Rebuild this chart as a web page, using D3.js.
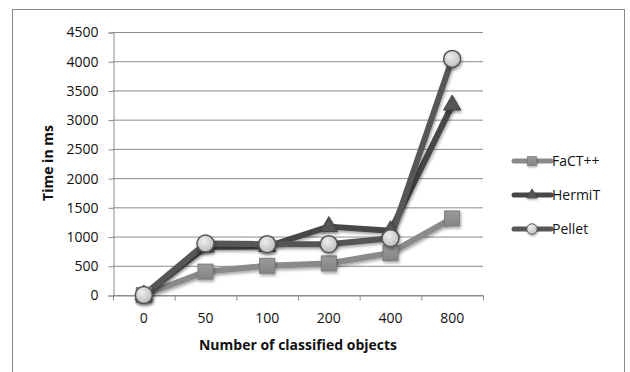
<!DOCTYPE html>
<html><head><meta charset="utf-8">
<script src="https://cdn.jsdelivr.net/npm/d3@7"></script>
<style>body{margin:0;background:#fff}text{font-family:"Open Sans",sans-serif}</style>
</head><body><svg id="c" width="630" height="372"></svg>
<script>
const categories = ["0","50","100","200","400","800"];
const seriesNames = ["FaCT++","HermiT","Pellet"];
const factValues = [0, 400, 500, 540, 720, 1310];
const hermitValues = [0, 820, 830, 1170, 1100, 3250];
const pelletValues = [0, 880, 870, 870, 970, 4040];
const yTicks = [0,500,1000,1500,2000,2500,3000,3500,4000,4500];

(function(){
const svg = d3.select("#c");
const defs = svg.append("defs");
const f = defs.append("filter").attr("id","sh").attr("x","-50%").attr("y","-50%").attr("width","200%").attr("height","200%");
f.append("feDropShadow").attr("dx",1).attr("dy",2).attr("stdDeviation",1.5).attr("flood-color","#000").attr("flood-opacity",0.35);
const g1 = defs.append("radialGradient").attr("id","circG").attr("cx","40%").attr("cy","35%").attr("r","65%");
g1.append("stop").attr("offset","0%").attr("stop-color","#eeeeee");
g1.append("stop").attr("offset","100%").attr("stop-color","#bdbdbd");
const g2 = defs.append("linearGradient").attr("id","sqG").attr("x1",0).attr("y1",0).attr("x2",0).attr("y2",1);
g2.append("stop").attr("offset","0%").attr("stop-color","#9a9a9a");
g2.append("stop").attr("offset","100%").attr("stop-color","#858585");

svg.append("rect").attr("x",12.5).attr("y",9.5).attr("width",612).attr("height",380)
  .attr("fill","none").attr("stroke","#8a8a8a").attr("stroke-width",1);

const pl=113, pr=483, pt=32, pb=295;
const x = d3.scaleBand().domain(categories).range([pl,pr]);
const y = d3.scaleLinear().domain([0,4500]).range([pb,pt]);

svg.append("g").selectAll("line").data(yTicks).join("line")
  .attr("x1",pl).attr("x2",pr).attr("y1",d=>y(d)+0.5).attr("y2",d=>y(d)+0.5)
  .attr("stroke","#8c8c8c").attr("stroke-width",1);

const ya = svg.append("g").attr("transform",`translate(${pl+0.5},0.5)`)
  .call(d3.axisLeft(y).tickValues(yTicks).tickSize(5).tickPadding(10).tickFormat(d3.format("d")));
ya.select(".domain").attr("stroke","#8c8c8c");
ya.selectAll(".tick line").attr("stroke","#8c8c8c");
ya.selectAll("text").attr("font-size",14).attr("fill","#111").attr("font-family","Open Sans");

const xa = svg.append("g").attr("transform",`translate(0,${pb+0.5})`)
  .call(d3.axisBottom(x).tickSize(0).tickPadding(18));
xa.select(".domain").attr("stroke","#8c8c8c");
xa.selectAll("text").attr("font-size",14).attr("fill","#111").attr("font-family","Open Sans");
xa.selectAll(".sep").data(d3.range(categories.length+1)).join("line").attr("class","sep")
  .attr("x1",i=>pl+i*x.step()+0.5).attr("x2",i=>pl+i*x.step()+0.5)
  .attr("y1",0).attr("y2",5).attr("stroke","#8c8c8c");

svg.append("text").attr("x",(pl+pr)/2).attr("y",350).attr("text-anchor","middle")
  .attr("font-size",14).attr("font-weight","bold").attr("fill","#111").text("Number of classified objects");
svg.append("text").attr("transform","translate(53,163) rotate(-90)").attr("text-anchor","middle")
  .attr("font-size",14).attr("font-weight","bold").attr("fill","#111").text("Time in ms");

const cx = d => x(d) + x.bandwidth()/2;
const series = [
  {name:seriesNames[0], values:factValues, color:"#8a8a8a", marker:"square"},
  {name:seriesNames[1], values:hermitValues, color:"#474747", marker:"triangle"},
  {name:seriesNames[2], values:pelletValues, color:"#575757", marker:"circle"}
];
const line = d3.line().x((d,i)=>cx(categories[i])).y(d=>y(d));

function drawMarker(sel, type){
  if(type==="square"){
    sel.append("rect").attr("x",-7.5).attr("y",-7.5).attr("width",15).attr("height",15)
      .attr("fill","url(#sqG)").attr("stroke","#7a7a7a").attr("stroke-width",1).attr("filter","url(#sh)");
  } else if(type==="triangle"){
    sel.append("path").attr("d",d3.symbol().type(d3.symbolTriangle).size(130)())
      .attr("fill","#555").attr("stroke","#444").attr("stroke-width",1).attr("filter","url(#sh)");
  } else {
    sel.append("circle").attr("r",8.5).attr("fill","url(#circG)").attr("stroke","#555")
      .attr("stroke-width",1.5).attr("filter","url(#sh)");
  }
}

series.forEach(s=>{
  svg.append("path").datum(s.values).attr("d",line).attr("fill","none")
    .attr("stroke",s.color).attr("stroke-width",6).attr("stroke-linejoin","round").attr("filter","url(#sh)");
});
series.forEach(s=>{
  s.values.forEach((v,i)=>{
    const gm = svg.append("g").attr("transform",`translate(${cx(categories[i])},${y(v)})`);
    drawMarker(gm, s.marker);
  });
});

series.forEach((s,i)=>{
  const ly = 161 + i*34;
  const lg = svg.append("g").attr("transform",`translate(0,${ly})`);
  lg.append("line").attr("x1",514).attr("x2",551).attr("y1",0).attr("y2",0)
    .attr("stroke",s.color).attr("stroke-width",5).attr("stroke-linecap","round");
  const m = lg.append("g").attr("transform","translate(532,0) scale(0.62)");
  drawMarker(m, s.marker);
  lg.append("text").attr("x",552).attr("y",5).attr("font-size",14).attr("fill","#111").text(s.name);
});
})();
</script></body></html>
